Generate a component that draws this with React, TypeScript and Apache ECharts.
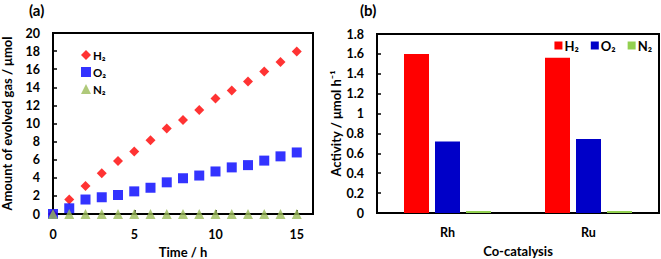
import React, { useEffect, useRef } from "react";
import * as echarts from "echarts";

const hours = [0, 1, 2, 3, 4, 5, 6, 7, 8, 9, 10, 11, 12, 13, 14, 15];
const h2Amount = [0, 1.6, 3.1, 4.5, 5.85, 6.9, 8.15, 9.45, 10.4, 11.5, 12.75, 13.65, 14.65, 15.75, 16.8, 17.95];
const o2Amount = [0, 0.63, 1.6, 1.85, 2.1, 2.5, 2.9, 3.5, 3.95, 4.25, 4.7, 5.15, 5.4, 5.9, 6.37, 6.8];
const n2Amount = [0, 0, 0, 0, 0, 0, 0, 0, 0, 0, 0, 0, 0, 0, 0, 0];

const catalysts = ["Rh", "Ru"];
const h2Activity = [1.6, 1.56];
const o2Activity = [0.72, 0.745];
const n2Activity = [0.02, 0.02];

const FONT = "Lato, 'Open Sans', sans-serif";

export default function App() {
  const ref = useRef<HTMLDivElement>(null);
  useEffect(() => {
    if (!ref.current) return;
    const chart = echarts.init(ref.current, null, { renderer: "svg" });
    const tickLabel = { color: "#000", fontFamily: FONT, fontWeight: "bold", fontSize: 12.5 };
    const nameStyle = { color: "#000", fontFamily: FONT, fontWeight: "bold", fontSize: 13 };
    const axisLine = { show: true, lineStyle: { color: "#000", width: 2 } };
    const pair = (xs: number[], ys: number[]) => xs.map((x, i) => [x, ys[i]]);
    chart.setOption({
      animation: false,
      backgroundColor: "#fff",
      textStyle: { fontFamily: FONT },
      graphic: [
        { type: "text", left: 29, top: 2, style: { text: "(a)", font: `bold 15px ${FONT}`, fill: "#000" } },
        { type: "text", left: 360, top: 2, style: { text: "(b)", font: `bold 15px ${FONT}`, fill: "#000" } },
      ],
      legend: [
        {
          data: ["H₂", "O₂", "N₂"].map((n) => ({ name: n })),
          orient: "vertical",
          left: 76,
          top: 44,
          itemWidth: 10,
          itemHeight: 10,
          itemGap: 5,
          textStyle: { color: "#000", fontFamily: FONT, fontWeight: "bold", fontSize: 11.5, padding: [0, 0, 0, -3] },
          selectedMode: false,
        },
        {
          data: ["H₂ ", "O₂ ", "N₂ "],
          formatter: (n: string) => n.trim(),
          orient: "horizontal",
          right: 9,
          top: 39,
          padding: 0,
          icon: "rect",
          itemWidth: 8,
          itemHeight: 8,
          itemGap: 12,
          textStyle: { color: "#000", fontFamily: FONT, fontWeight: "bold", fontSize: 13, padding: [0, 0, 0, -3] },
          selectedMode: false,
        },
      ],
      grid: [
        { left: 53, top: 33, width: 260, height: 181, show: true, borderColor: "#000", borderWidth: 2, backgroundColor: "transparent", outerBoundsMode: "none", containLabel: false },
        { left: 377, top: 34, width: 282, height: 179, show: true, borderColor: "#000", borderWidth: 2, backgroundColor: "transparent", outerBoundsMode: "none", containLabel: false },
      ],
      xAxis: [
        {
          gridIndex: 0,
          type: "value",
          min: 0,
          max: 16,
          interval: 5,
          name: "Time / h",
          nameLocation: "middle",
          nameGap: 29,
          nameTextStyle: nameStyle,
          axisLine,
          axisTick: { show: true, inside: true, length: 4, lineStyle: { color: "#000", width: 1.5 } },
          axisLabel: { ...tickLabel, margin: 14, formatter: (v: number) => (v % 5 === 0 ? String(v) : "") },
          splitLine: { show: false },
        },
        {
          gridIndex: 1,
          type: "category",
          data: catalysts,
          name: "Co-catalysis",
          nameLocation: "middle",
          nameGap: 31,
          nameTextStyle: nameStyle,
          axisLine,
          axisTick: { show: false },
          axisLabel: { ...tickLabel, margin: 13 },
        },
      ],
      yAxis: [
        {
          gridIndex: 0,
          type: "value",
          min: 0,
          max: 20,
          interval: 2,
          name: "Amount of evolved gas / μmol",
          nameLocation: "middle",
          nameGap: 40,
          nameTextStyle: nameStyle,
          axisLine,
          axisTick: { show: true, inside: true, length: 4, lineStyle: { color: "#000", width: 1.5 } },
          axisLabel: { ...tickLabel, margin: 13 },
          splitLine: { show: false },
        },
        {
          gridIndex: 1,
          type: "value",
          min: 0,
          max: 1.8,
          interval: 0.2,
          name: "Activity / μmol h⁻¹",
          nameLocation: "middle",
          nameGap: 31,
          nameTextStyle: nameStyle,
          axisLine,
          axisTick: { show: true, inside: true, length: 4, lineStyle: { color: "#000", width: 1.5 } },
          axisLabel: { ...tickLabel, margin: 13 },
          splitLine: { show: false },
        },
      ],
      series: [
        {
          name: "H₂",
          type: "scatter",
          xAxisIndex: 0,
          yAxisIndex: 0,
          symbol: "diamond",
          symbolSize: 10,
          itemStyle: { color: "#FF0000" },
          data: pair(hours, h2Amount),
        },
        {
          name: "O₂",
          type: "scatter",
          xAxisIndex: 0,
          yAxisIndex: 0,
          symbol: "rect",
          symbolSize: 10,
          itemStyle: { color: "#0000FF" },
          data: pair(hours, o2Amount),
        },
        {
          name: "N₂",
          type: "scatter",
          xAxisIndex: 0,
          yAxisIndex: 0,
          symbol: "triangle",
          symbolSize: 10,
          itemStyle: { color: "#9BBB59" },
          data: pair(hours, n2Amount),
        },
        {
          name: "H₂ ",
          type: "bar",
          xAxisIndex: 1,
          yAxisIndex: 1,
          barWidth: 25,
          barGap: "24%",
          itemStyle: { color: "#FF0000" },
          data: h2Activity,
        },
        {
          name: "O₂ ",
          type: "bar",
          xAxisIndex: 1,
          yAxisIndex: 1,
          barWidth: 25,
          barGap: "24%",
          itemStyle: { color: "#0000C8" },
          data: o2Activity,
        },
        {
          name: "N₂ ",
          type: "bar",
          xAxisIndex: 1,
          yAxisIndex: 1,
          barWidth: 25,
          barGap: "24%",
          itemStyle: { color: "#92D050" },
          data: n2Activity,
        },
      ],
    });
    return () => chart.dispose();
  }, []);
  return (
    <div
      ref={ref}
      style={{ position: "fixed", left: 0, top: 0, width: 661, height: 259 }}
    />
  );
}
